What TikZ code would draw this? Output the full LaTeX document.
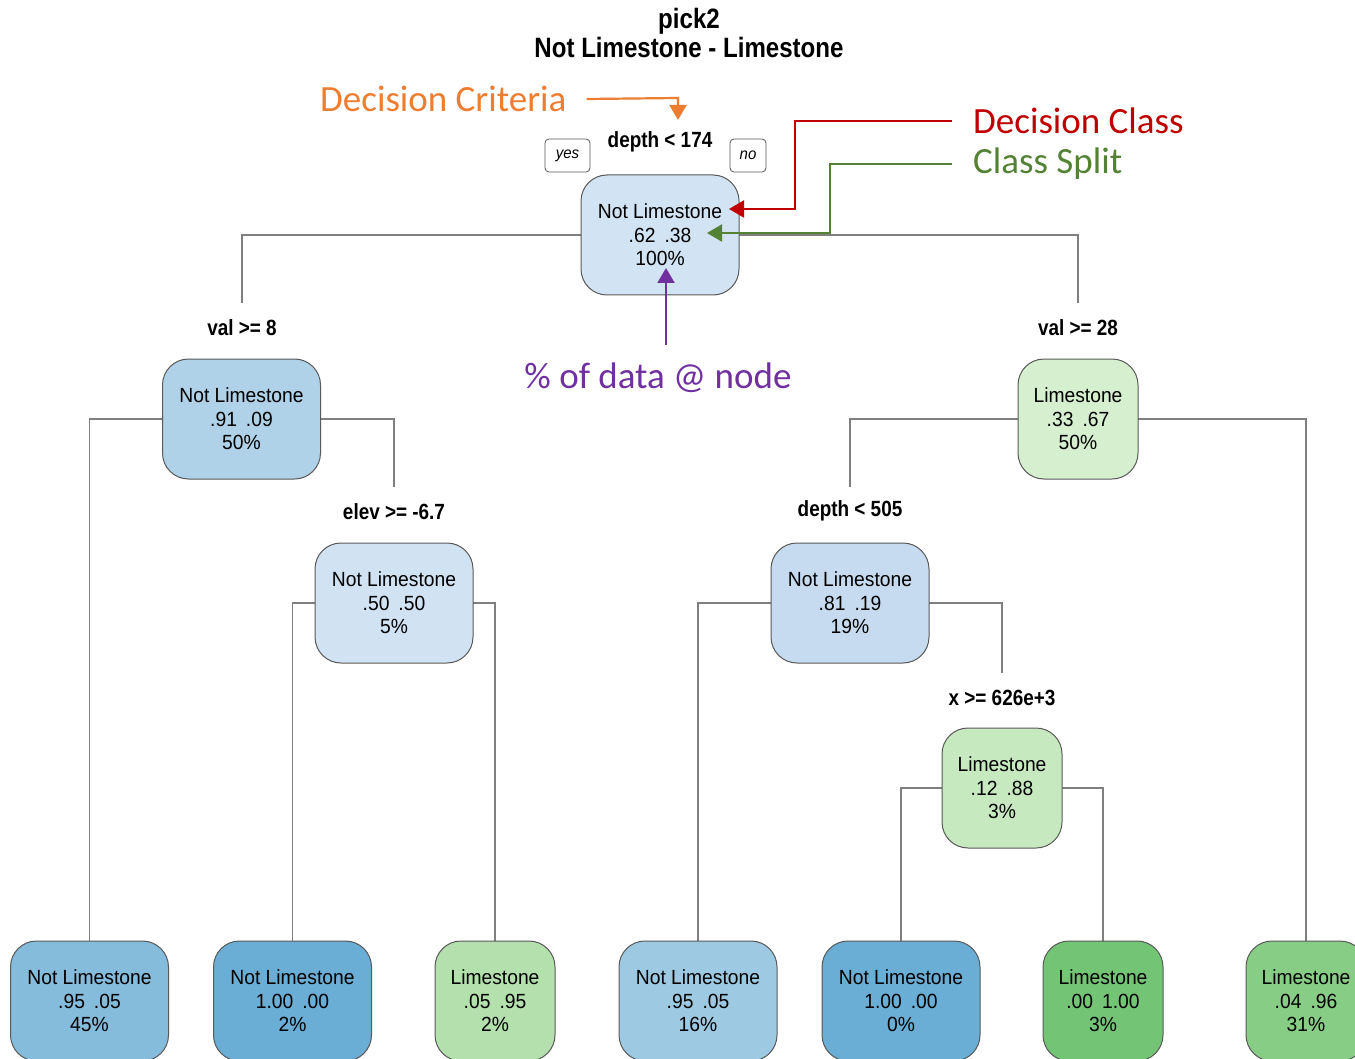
\documentclass[tikz,border=0pt]{standalone}
\usepackage{fontspec}
\setmainfont{Liberation Sans}
\newfontfamily\nodefont[FakeStretch=0.94]{Liberation Sans}
\newfontfamily\labfont[FakeStretch=0.86]{Liberation Sans}
\newfontfamily\annfont{Carlito}
\usetikzlibrary{arrows.meta,backgrounds}
\definecolor{cOrange}{HTML}{ED7D31}
\definecolor{cRed}{HTML}{C00000}
\definecolor{cGreen}{HTML}{548235}
\definecolor{cPurple}{HTML}{7030A0}
\definecolor{cLine}{HTML}{7F7F7F}
\definecolor{cBorder}{HTML}{595959}
\definecolor{bRoot}{HTML}{D2E3F3}
\definecolor{bA}{HTML}{B0D2E8}
\definecolor{bB}{HTML}{D1E2F3}
\definecolor{bC}{HTML}{C6DBEF}
\definecolor{gA}{HTML}{D5EFCF}
\definecolor{gB}{HTML}{C7E9C0}
\definecolor{lA}{HTML}{85BBDB}
\definecolor{lB}{HTML}{6AADD5}
\definecolor{lC}{HTML}{B3E0AC}
\definecolor{lD}{HTML}{9DCAE2}
\definecolor{lE}{HTML}{6AADD5}
\definecolor{lF}{HTML}{74C476}
\definecolor{lG}{HTML}{88CD86}
\newcommand{\pr}[2]{#1\hspace{9pt}#2}
\tikzset{
  tnode/.style={draw=cBorder, line width=1pt, rounded corners=26pt, minimum width=158pt,
    minimum height=120pt, inner sep=0pt, align=center,
    font=\nodefont\fontsize{20.5}{23.5}\selectfont},
  gnode/.style={tnode, minimum width=120pt},
  splitlab/.style={font=\labfont\bfseries\fontsize{22}{24}\selectfont, inner sep=0pt},
  yn/.style={draw=cBorder, line width=0.8pt, rounded corners=4pt, inner sep=0pt,
    minimum height=33pt, font=\nodefont\itshape\fontsize{16}{18}\selectfont},
  conn/.style={draw=cLine, line width=1.2pt},
  ann/.style={font=\annfont\fontsize{37}{42}\selectfont, inner sep=0pt},
  annarrow/.style={line width=2.2pt, -{Triangle[length=15pt 0 0,width=17pt 0 0]}},
}
\begin{document}
\begin{tikzpicture}[x=1pt,y=-1pt]
\useasboundingbox (0,0) rectangle (1355,1059);
\clip (0,0) rectangle (1355,1059);
% title
\node[font=\labfont\bfseries\fontsize{28}{29}\selectfont, align=center] (title) at (689,33) {pick2\\Not Limestone - Limestone};
% tree nodes
\node[tnode, fill=bRoot] (root) at (660,235) {Not Limestone\\\pr{.62}{.38}\\100\%};
\node[tnode, fill=bA] (n2) at (241.5,419) {Not Limestone\\\pr{.91}{.09}\\50\%};
\node[gnode, fill=gA] (n3) at (1078,419) {Limestone\\\pr{.33}{.67}\\50\%};
\node[tnode, fill=bB] (n5) at (394,603) {Not Limestone\\\pr{.50}{.50}\\5\%};
\node[tnode, fill=bC] (n6) at (850,603) {Not Limestone\\\pr{.81}{.19}\\19\%};
\node[gnode, fill=gB] (n13) at (1002,788) {Limestone\\\pr{.12}{.88}\\3\%};
\node[tnode, fill=lA] (l1) at (89.5,1001) {Not Limestone\\\pr{.95}{.05}\\45\%};
\node[tnode, fill=lB] (l2) at (292.5,1001) {Not Limestone\\\pr{1.00}{.00}\\2\%};
\node[gnode, fill=lC] (l3) at (495,1001) {Limestone\\\pr{.05}{.95}\\2\%};
\node[tnode, fill=lD] (l4) at (698,1001) {Not Limestone\\\pr{.95}{.05}\\16\%};
\node[tnode, fill=lE] (l5) at (901,1001) {Not Limestone\\\pr{1.00}{.00}\\0\%};
\node[gnode, fill=lF] (l6) at (1103,1001) {Limestone\\\pr{.00}{1.00}\\3\%};
\node[gnode, fill=lG] (l7) at (1306,1001) {Limestone\\\pr{.04}{.96}\\31\%};
% split labels
\node[splitlab] (s1) at (660,142) {depth < 174};
\node[splitlab] (s2) at (242,328) {val >= 8};
\node[splitlab] (s3) at (1078,328) {val >= 28};
\node[splitlab] (s5) at (394,512) {elev >= -6.7};
\node[splitlab] (s6) at (850,511) {depth < 505};
\node[splitlab] (s13) at (1002,698) {x >= 626e+3};
\node[yn, minimum width=45pt] (yes) at (567.5,155.5) {yes};
\node[yn, minimum width=36pt] (no) at (748,155.5) {no};
% connector ends above split labels
\coordinate (e2) at (242,303);
\coordinate (e3) at (1078,303);
\coordinate (e5) at (394,487);
\coordinate (e6) at (850,487);
\coordinate (e13) at (1002,673);
\begin{scope}[on background layer]
\draw[conn] (e2) |- (root.center) -| (e3);
\draw[conn] (l1.north) |- (n2.center) -| (e5);
\draw[conn] (e6) |- (n3.center) -| (l7.north);
\draw[conn] (l2.north) |- (n5.center) -| (l3.north);
\draw[conn] (l4.north) |- (n6.center) -| (e13);
\draw[conn] (l5.north) |- (n13.center) -| (l6.north);
\end{scope}
% annotations
\node[ann, text=cOrange, anchor=west] (aDC) at (320,99) {Decision Criteria};
\node[ann, text=cRed, anchor=west] (aCl) at (973,121) {Decision Class};
\node[ann, text=cGreen, anchor=west] (aSp) at (973,164) {Class Split};
\node[ann, text=cPurple] (aPc) at (658,378) {\% of data @ node};
\coordinate (oc) at (678,98);
\coordinate (ot) at (678,120);
\coordinate (rc1) at (795,121);
\coordinate (rt) at (729,209);
\coordinate (gc1) at (830,164);
\coordinate (gt) at (707,233);
\coordinate (ps) at (666,345);
\coordinate (pt) at (666,268);
\draw[annarrow, color=cOrange] ([xshift=20pt]aDC.east) -- (oc) -- (ot);
\draw[annarrow, color=cRed] ([xshift=-21pt]aCl.west) -- (rc1) |- (rt);
\draw[annarrow, color=cGreen] ([xshift=-21pt]aSp.west) -- (gc1) |- (gt);
\draw[annarrow, color=cPurple] (ps) -- (pt);
\end{tikzpicture}
\end{document}
